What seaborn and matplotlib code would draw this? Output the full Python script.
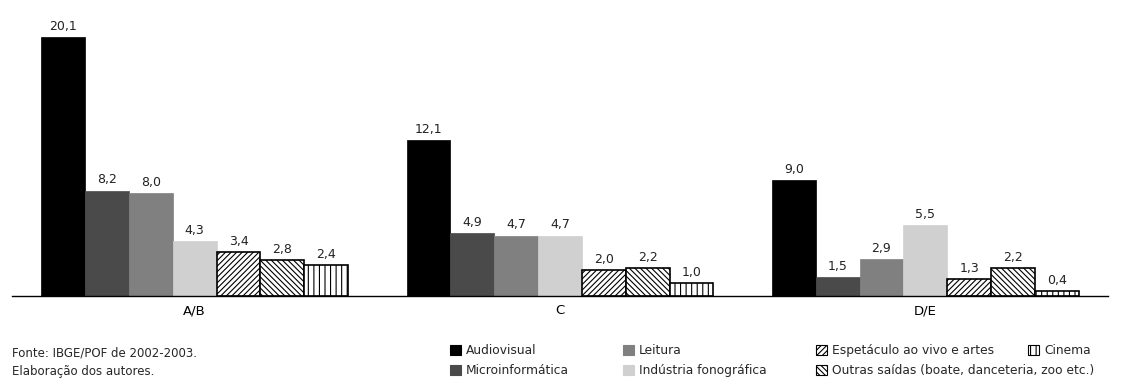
import matplotlib
matplotlib.use("Agg")
import matplotlib.pyplot as plt
from matplotlib.patches import Patch
import seaborn as sns
import pandas as pd

classes = ["A/B", "C", "D/E"]
series = ["Audiovisual", "Microinformática", "Leitura", "Indústria fonográfica",
          "Espetáculo ao vivo e artes", "Outras saídas (boate, danceteria, zoo etc.)", "Cinema"]
audiovisual = [20.1, 12.1, 9.0]
microinformatica = [8.2, 4.9, 1.5]
leitura = [8.0, 4.7, 2.9]
fonografica = [4.3, 4.7, 5.5]
espetaculo = [3.4, 2.0, 1.3]
outras = [2.8, 2.2, 2.2]
cinema = [2.4, 1.0, 0.4]

values = [audiovisual, microinformatica, leitura, fonografica, espetaculo, outras, cinema]
rows = []
for s, vals in zip(series, values):
    for c, v in zip(classes, vals):
        rows.append({"classe": c, "serie": s, "valor": v})
df = pd.DataFrame(rows)

colors = ["#000000", "#4a4a4a", "#808080", "#d0d0d0", "#ffffff", "#ffffff", "#ffffff"]
hatches = [None, None, None, None, "//////", "\\\\\\\\\\\\", "|||"]
edges = ["#000000", "#4a4a4a", "#808080", "#d0d0d0", "#000000", "#000000", "#000000"]

sns.set_theme(style="white")
plt.rcParams["font.family"] = ["DejaVu Sans"]
plt.rcParams["hatch.linewidth"] = 0.8

fig = plt.figure(figsize=(11.21, 3.87), dpi=100)
ax = fig.add_axes([12 / 1121, 91 / 387, 1096 / 1121, 1 - 91 / 387 - 13 / 387])

sns.barplot(data=df, x="classe", y="valor", hue="serie", order=classes, hue_order=series,
            palette=colors, width=0.84, gap=0, saturation=1, legend=False, ax=ax)

for i, cont in enumerate(ax.containers):
    for p in cont:
        p.set_edgecolor(edges[i])
        p.set_linewidth(1.2 if hatches[i] else 0.5)
        if hatches[i]:
            p.set_hatch(hatches[i])
    labels = [f"{v:.1f}".replace(".", ",") for v in values[i]]
    ax.bar_label(cont, labels=labels, padding=3, fontsize=9, color="#222222")

ax.set_xlim(-0.5, 2.5)
ax.set_ylim(0, 22)
ax.set_xlabel("")
ax.set_ylabel("")
ax.set_yticks([])
for s in ["left", "right", "top"]:
    ax.spines[s].set_visible(False)
ax.spines["bottom"].set_color("#000000")
ax.spines["bottom"].set_linewidth(1.0)
ax.set_xticks([0, 1, 2])
ax.set_xticklabels(classes, fontsize=9.5)
ax.tick_params(axis="x", which="major", length=0, pad=6, colors="#000000")
ax.set_xticks([-0.5, 0.5, 1.5, 2.5], minor=True)
ax.tick_params(axis="x", which="minor", direction="in", length=9, width=1.0, color="#000000")

handles = []
for i, s in enumerate(series):
    handles.append(Patch(facecolor=colors[i], edgecolor="#000000" if hatches[i] else colors[i],
                         hatch=hatches[i], label=s, linewidth=0.8))

col_x = [450, 623, 816, 1028]
col_items = [[0, 1], [2, 3], [4, 5], [6]]
for x, items in zip(col_x, col_items):
    fig.legend(handles=[handles[k] for k in items], loc="upper left",
               bbox_to_anchor=(x / 1121, 1 - 344 / 387), ncol=1,
               frameon=False, fontsize=8.8, handlelength=0.9, handleheight=0.9, handletextpad=0.4,
               labelspacing=0.6, borderaxespad=0, borderpad=0)

fig.text(12 / 1121, 1 - 353 / 387, "Fonte: IBGE/POF de 2002-2003.", fontsize=8.5, va="center", ha="left")
fig.text(12 / 1121, 1 - 372 / 387, "Elaboração dos autores.", fontsize=8.5, va="center", ha="left")

fig.savefig("out.png", dpi=100)
